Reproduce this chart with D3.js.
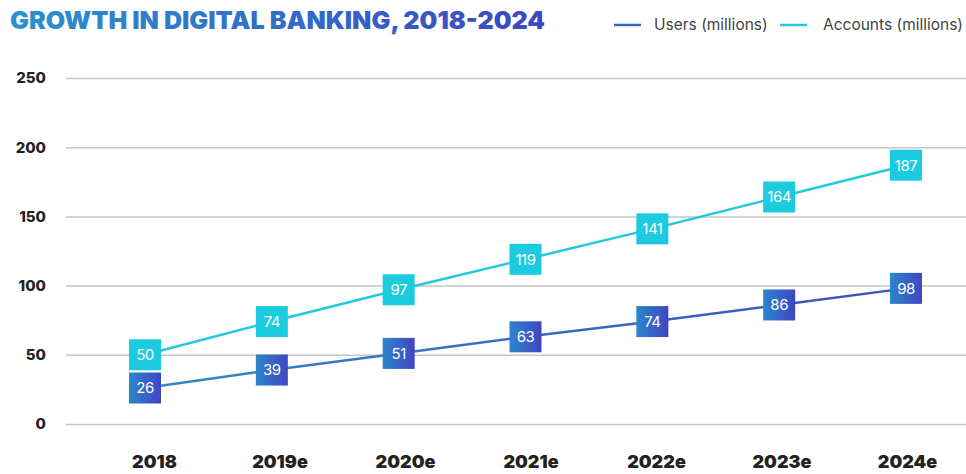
<!DOCTYPE html>
<html>
<head>
<meta charset="utf-8">
<script src="https://cdn.jsdelivr.net/npm/d3@7"></script>
<style>
  html, body { margin: 0; padding: 0; background: #fff; }
  svg { display: block; }
</style>
</head>
<body>
<svg id="chart" width="966" height="474"></svg>
<script>
// Digital banking growth, 2018–2024 (values in millions)
const years = ["2018", "2019e", "2020e", "2021e", "2022e", "2023e", "2024e"];
const users = [26, 39, 51, 63, 74, 86, 98];
const accounts = [50, 74, 97, 119, 141, 164, 187];
const yTicks = [0, 50, 100, 150, 200, 250];
const seriesNames = ["Users (millions)", "Accounts (millions)"];

const W = 966, H = 474;
const svg = d3.select("#chart");
const FONT = "Inter, 'Open Sans', 'DejaVu Sans', sans-serif";

const x = d3.scalePoint().domain(years).range([145, 906]);
// category labels sit slightly right of the marks on the left side
const xLabel = d3.scalePoint().domain(years).range([154, 907]);
const y = d3.scaleLinear().domain([0, 250]).range([424, 78]);

// gradients
const defs = svg.append("defs");
function hGrad(id, c0, c1, units) {
  const g = defs.append("linearGradient").attr("id", id)
    .attr("x1", "0%").attr("y1", "0%").attr("x2", "100%").attr("y2", "0%");
  if (units) g.attr("gradientUnits", "userSpaceOnUse")
    .attr("x1", units[0]).attr("x2", units[1]).attr("y1", 0).attr("y2", 0);
  g.append("stop").attr("offset", "0%").attr("stop-color", c0);
  g.append("stop").attr("offset", "100%").attr("stop-color", c1);
}
hGrad("titleGrad", "#2a92cf", "#3b47c2", [10, 545]);
hGrad("userBox", "#2b86cc", "#4145c2");
hGrad("userLine", "#3387c6", "#3f4fbf", [145, 906]);

// title
svg.append("text")
  .attr("x", 10).attr("y", 29)
  .attr("font-family", FONT).attr("font-weight", 900).attr("font-size", 25)
  .attr("textLength", 535).attr("lengthAdjust", "spacingAndGlyphs")
  .attr("fill", "url(#titleGrad)")
  .text("GROWTH IN DIGITAL BANKING, 2018-2024");

// legend
const legend = svg.append("g").attr("font-family", FONT).attr("font-size", 15.5).attr("fill", "#444");
const legendItems = [
  { name: seriesNames[0], color: "#3a68c0", x0: 614, tx: 654 },
  { name: seriesNames[1], color: "#1fcbdc", x0: 780, tx: 823 }
];
legendItems.forEach(d => {
  legend.append("line").attr("x1", d.x0).attr("x2", d.x0 + 27)
    .attr("y1", 25).attr("y2", 25)
    .attr("stroke", d.color).attr("stroke-width", 2.5);
  legend.append("text").attr("x", d.tx).attr("y", 30).text(d.name);
});

// y gridlines and labels
const yAxis = d3.axisLeft(y).tickValues(yTicks).tickSize(-(W - 66)).tickPadding(20);
const gy = svg.append("g").attr("transform", "translate(66,0)").call(yAxis);
gy.select(".domain").remove();
gy.selectAll(".tick line").attr("stroke", "#c6c6c6").attr("stroke-width", 1.5);
gy.selectAll(".tick text")
  .attr("font-family", FONT).attr("font-weight", 800).attr("font-size", 15)
  .attr("fill", "#222");

// x labels
const xAxis = d3.axisBottom(xLabel).tickSize(0).tickPadding(0);
const gx = svg.append("g").attr("transform", "translate(0,452)").call(xAxis);
gx.select(".domain").remove();
gx.selectAll(".tick text")
  .attr("font-family", FONT).attr("font-weight", 900).attr("font-size", 18)
  .attr("fill", "#222").attr("dy", "0.9em");

// lines
const line = d3.line().x((d, i) => x(years[i])).y(d => y(d));
svg.append("path").datum(accounts).attr("d", line)
  .attr("fill", "none").attr("stroke", "#23c9dc").attr("stroke-width", 2.5);
svg.append("path").datum(users).attr("d", line)
  .attr("fill", "none").attr("stroke", "url(#userLine)").attr("stroke-width", 2.5);

// value boxes
const BW = 32, BH = 31;
function boxes(values, fill) {
  const g = svg.append("g").selectAll("g").data(values).join("g")
    .attr("transform", (d, i) => `translate(${x(years[i])},${y(d)})`);
  g.append("rect").attr("x", -BW / 2).attr("y", -BH / 2)
    .attr("width", BW).attr("height", BH).attr("fill", fill);
  g.append("text").attr("text-anchor", "middle").attr("dy", "0.36em")
    .attr("font-family", FONT).attr("font-size", 15).attr("fill", "#fff")
    .attr("letter-spacing", -0.5)
    .text(d => d);
}
boxes(accounts, "#1ccbdf");
boxes(users, "url(#userBox)");
</script>
</body>
</html>
